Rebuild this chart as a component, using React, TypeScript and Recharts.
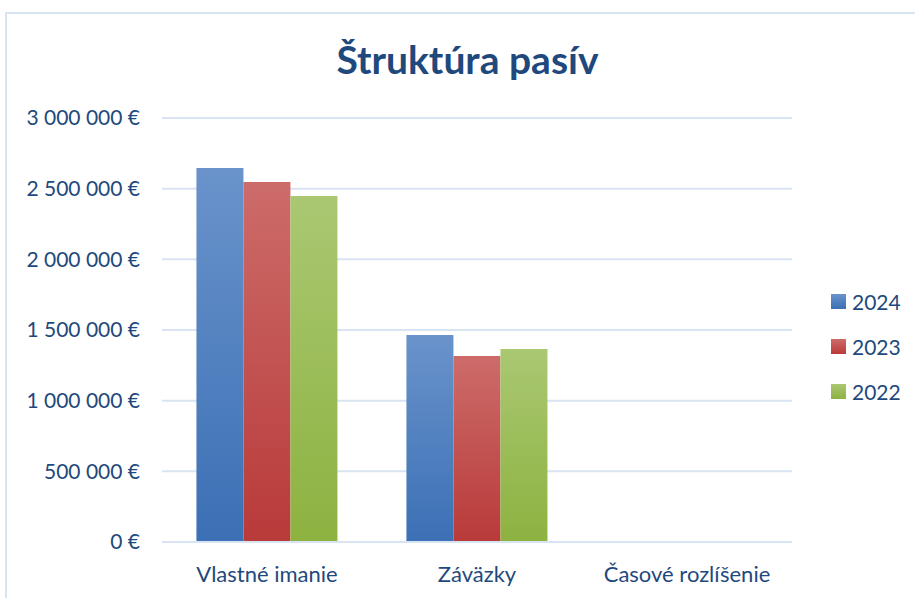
import React from 'react';
import { BarChart, Bar, XAxis, YAxis, CartesianGrid, Legend } from 'recharts';

const categories = ['Vlastné imanie', 'Záväzky', 'Časové rozlíšenie'];
const series2024 = [2646000, 1465000, 0];
const series2023 = [2547000, 1316000, 0];
const series2022 = [2448000, 1366000, 0];
const yTicks = [0, 500000, 1000000, 1500000, 2000000, 2500000, 3000000];
const seriesNames = ['2024', '2023', '2022'];

const data = categories.map((c, i) => ({
  name: c,
  y2024: series2024[i],
  y2023: series2023[i],
  y2022: series2022[i],
}));

const TEXT = '#1F497D';
const GRID = '#D9E4F2';
const FONT = 'Lato, "Open Sans", sans-serif';

const fmt = (v: number) => {
  const s = String(Math.round(v)).replace(/\B(?=(\d{3})+(?!\d))/g, ' ');
  return s + ' €';
};

const grads = [
  { id: 'g2024', top: '#6A93CB', bottom: '#3B70B5' },
  { id: 'g2023', top: '#CC6C6A', bottom: '#B83A39' },
  { id: 'g2022', top: '#AAC872', bottom: '#8DB240' },
];

const LegendContent = () => (
  <div style={{ fontFamily: FONT, fontSize: 21, color: TEXT }}>
    {seriesNames.map((n, i) => (
      <div key={n} style={{ display: 'flex', alignItems: 'center', height: 45 }}>
        <svg width={15} height={15} style={{ marginRight: 6 }}>
          <rect x={0} y={0} width={15} height={15} fill={`url(#${grads[i].id})`} />
        </svg>
        <span>{n}</span>
      </div>
    ))}
  </div>
);

export default function App() {
  return (
    <div style={{ position: 'absolute', left: 0, top: 0, width: 915, height: 598, overflow: 'hidden', background: '#fff' }}>
      <div style={{ position: 'absolute', left: 5, top: 12, width: 920, height: 600, border: `2px solid ${GRID}`, boxSizing: 'border-box' }} />
      <div style={{ position: 'absolute', left: 0, top: 36, width: 935, textAlign: 'center', fontFamily: FONT, fontWeight: 700, fontSize: 39, color: TEXT }}>
        Štruktúra pasív
      </div>
      <div style={{ position: 'absolute', left: 0, top: 0 }}>
        <BarChart
          width={915}
          height={598}
          data={data}
          margin={{ top: 118, right: 23, bottom: 0, left: 0 }}
          barCategoryGap="16.4%"
          barGap={0}
        >
          <defs>
            {grads.map((g) => (
              <linearGradient key={g.id} id={g.id} x1="0" y1="0" x2="0" y2="1">
                <stop offset="0%" stopColor={g.top} />
                <stop offset="100%" stopColor={g.bottom} />
              </linearGradient>
            ))}
          </defs>
          <CartesianGrid vertical={false} stroke={GRID} strokeWidth={2} />
          <XAxis
            dataKey="name"
            height={56}
            tickSize={0}
            tickMargin={24}
            axisLine={{ stroke: GRID, strokeWidth: 2 }}
            tickLine={false}
            tick={{ fill: TEXT, fontSize: 22, fontFamily: FONT }}
          />
          <YAxis
            width={162}
            domain={[0, 3000000]}
            ticks={yTicks}
            tickFormatter={fmt}
            tickSize={0}
            tickMargin={22}
            axisLine={false}
            tickLine={false}
            tick={{ fill: TEXT, fontSize: 21, fontFamily: FONT }}
          />
          <Legend
            layout="vertical"
            align="right"
            verticalAlign="middle"
            content={<LegendContent />}
            wrapperStyle={{ width: 100, left: 831, top: 279 }}
          />
          <Bar dataKey="y2024" name="2024" fill="url(#g2024)" isAnimationActive={false} />
          <Bar dataKey="y2023" name="2023" fill="url(#g2023)" isAnimationActive={false} />
          <Bar dataKey="y2022" name="2022" fill="url(#g2022)" isAnimationActive={false} />
        </BarChart>
      </div>
    </div>
  );
}
